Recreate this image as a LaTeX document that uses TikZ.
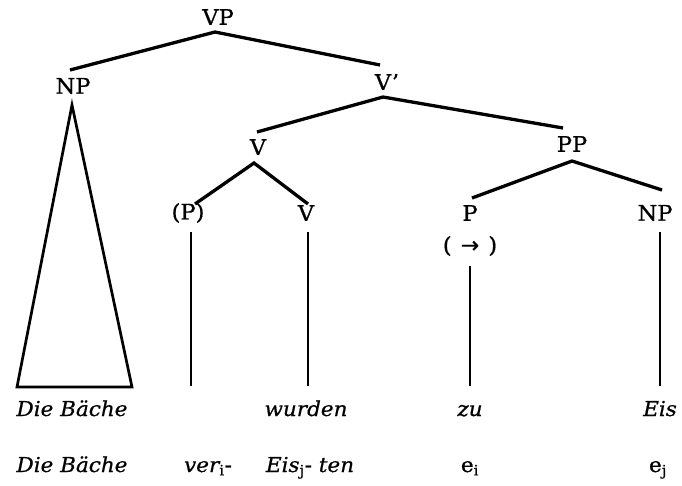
\documentclass[tikz,border=0pt]{standalone}
\usepackage{fontspec}
\setmainfont[FakeStretch=1.05, FakeBold=0.7]{DejaVu Serif}
\newfontfamily\arrowfont[FakeBold=0.7]{DejaVu Sans}
\begin{document}
\begin{tikzpicture}[x=1pt,y=-1pt,
  lbl/.style={font=\fontsize{21.5}{24}\selectfont, inner sep=0pt},
  word/.style={font=\fontsize{20.5}{24}\selectfont\itshape, inner sep=0pt, anchor=base},
  branch/.style={line width=3.3pt},
  stem/.style={line width=2.7pt}]
\useasboundingbox (0,0) rectangle (682,485);
% labels
\node[lbl] (VP) at (218,17) {VP};
\node[lbl] (NP1) at (73,86) {NP};
\node[lbl] (Vbar) at (387,82) {V'};
\node[lbl] (V1) at (258,147) {V};
\node[lbl] (PP) at (572,144) {PP};
\node[lbl] (Pp) at (188,213) {(P)};
\node[lbl] (V2) at (306,213) {V};
\node[lbl] (P) at (470,213) {P};
\node[lbl] (NP2) at (655,213) {NP};
\node[lbl, font=\fontsize{22}{24}\selectfont] (arr) at (470,246) {(\kern9pt{\arrowfont\fontsize{22}{24}\selectfont →}\kern9pt)};
% words row 1
\node[word] (w1) at (72,416) {Die Bäche};
\node[word] (w2) at (306,416) {wurden};
\node[word] (w3) at (470,416) {zu};
\node[word] (w4) at (660,416) {Eis};
% words row 2
\node[word] (r1) at (72,472) {Die Bäche};
\node[word] (r2) at (208,472) {ver\textsubscript{\upshape i}\upshape -};
\node[word] (r3) at (310,472) {Eis\textsubscript{\upshape j}\upshape - \itshape ten};
\node[word, font=\fontsize{20.5}{24}\selectfont] (r4) at (470,472) {e\textsubscript{i}};
\node[word, font=\fontsize{20.5}{24}\selectfont] (r5) at (658,472) {e\textsubscript{j}};
% junction coordinates
\coordinate (vpB) at (215,32);
\coordinate (np1T) at (70,70);
\coordinate (vbarT) at (380,65);
\coordinate (vbarB) at (383,97);
\coordinate (v1T) at (257,132);
\coordinate (ppT) at (563,128);
\coordinate (v1B) at (254,163);
\coordinate (ppTop) at (195,204);
\coordinate (v2T) at (308,204);
\coordinate (ppB) at (572,161);
\coordinate (pT) at (472,198);
\coordinate (np2T) at (662,190);
\coordinate (apex) at (72,105);
\coordinate (baseL) at (17,387);
\coordinate (baseR) at (132,387);
\coordinate (s1T) at (191,232);
\coordinate (s1B) at (191,386);
\coordinate (s2T) at (308,232);
\coordinate (s2B) at (308,386);
\coordinate (s3T) at (470,266);
\coordinate (s3B) at (470,386);
\coordinate (s4T) at (660,232);
\coordinate (s4B) at (660,386);
% branches
\draw[branch] (np1T) -- (vpB) -- (vbarT);
\draw[branch] (v1T) -- (vbarB) -- (ppT);
\draw[branch] (ppTop) -- (v1B) -- (v2T);
\draw[branch] (pT) -- (ppB) -- (np2T);
\draw[stem, line join=miter] (apex) -- (baseL) -- (baseR) -- cycle;
\draw[stem] (s1T) -- (s1B);
\draw[stem] (s2T) -- (s2B);
\draw[stem] (s3T) -- (s3B);
\draw[stem] (s4T) -- (s4B);
\end{tikzpicture}
\end{document}
